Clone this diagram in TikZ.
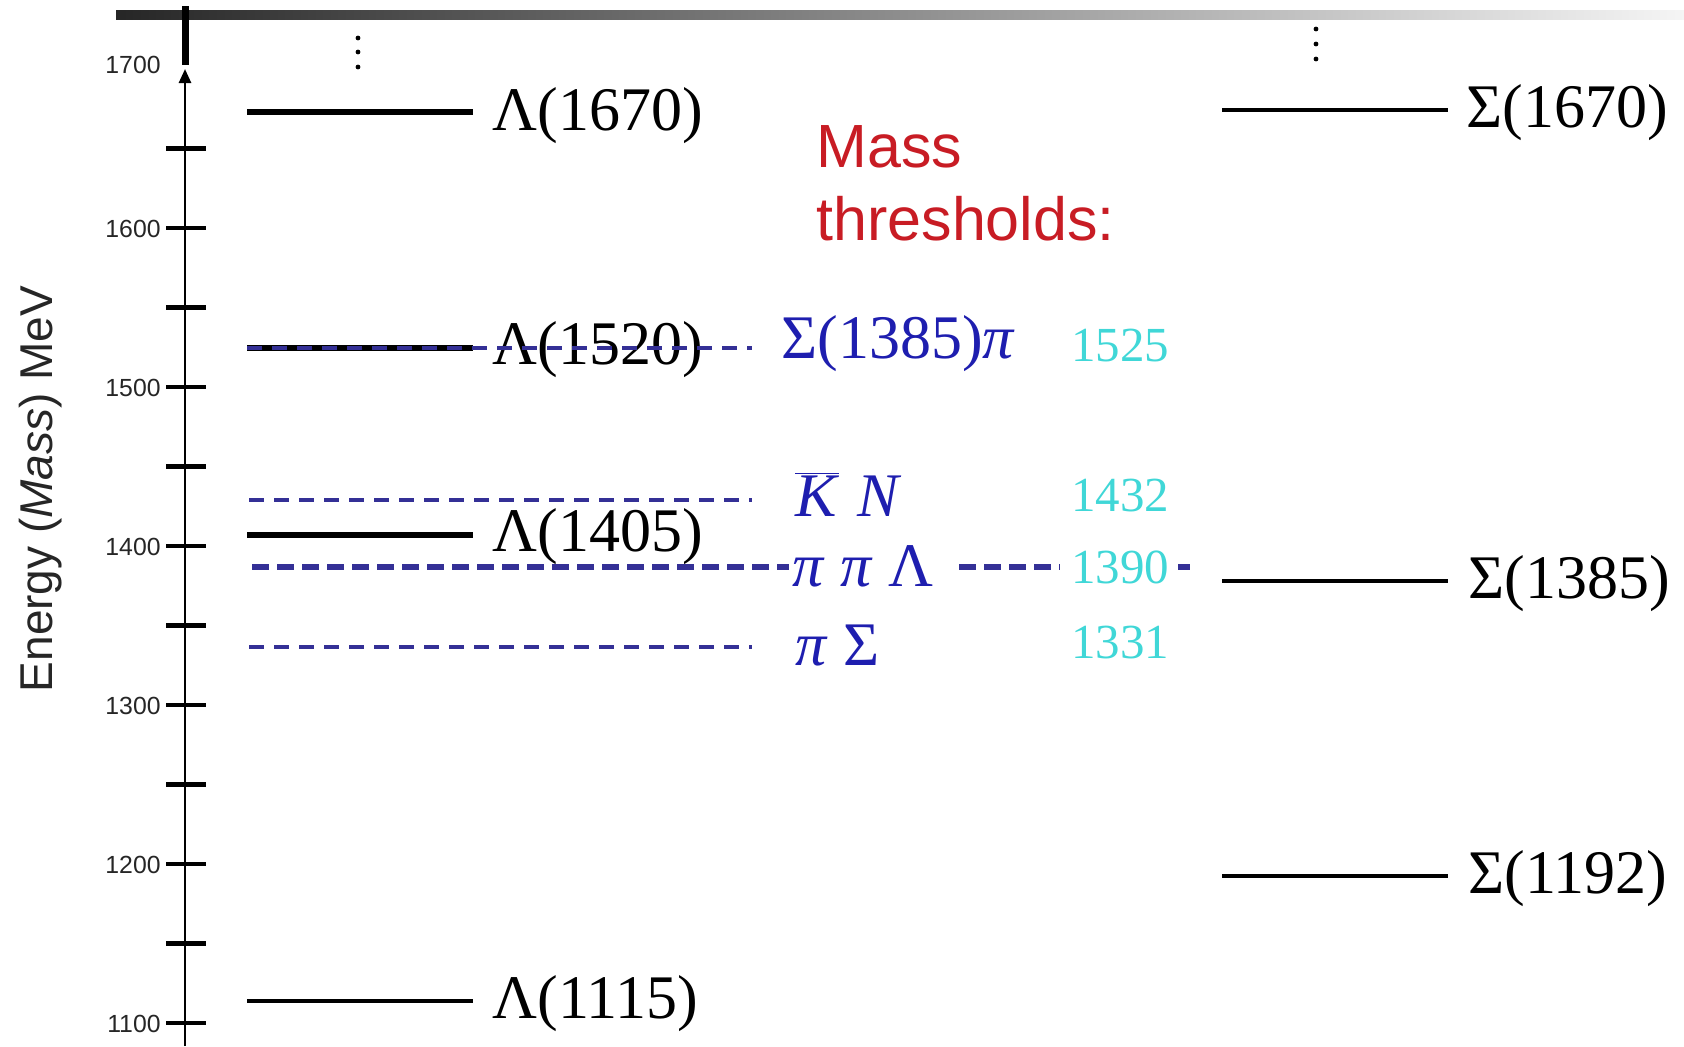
\documentclass[tikz,border=0pt]{standalone}
\usepackage{fontspec}
\setmainfont{Liberation Serif}
\newfontfamily\axisfont{Liberation Sans}
\usetikzlibrary{arrows.meta}

\definecolor{threshline}{RGB}{52,48,150}
\definecolor{threshtext}{RGB}{30,30,175}
\definecolor{threshnum}{RGB}{64,215,215}
\definecolor{titlered}{RGB}{200,28,36}

\tikzset{
  tickmark/.style={line width=2.1pt},
  ticklab/.style={anchor=east, inner sep=0pt, text=black!85, font=\axisfont\fontsize{12.4}{13}\selectfont},
  levthick/.style={line width=3.3pt},
  levthin/.style={line width=1.8pt},
  lab/.style={anchor=west, inner sep=0pt, font=\fontsize{31}{36}\selectfont},
  thlab/.style={lab, text=threshtext},
  thnum/.style={anchor=west, inner sep=0pt, text=threshnum, font=\fontsize{24.5}{28}\selectfont},
  thdash/.style={threshline, line width=1.6pt, dash pattern=on 7.5pt off 5pt},
  thdashbold/.style={threshline, line width=2.7pt, dash pattern=on 8.5pt off 4pt},
}

\begin{document}
\begin{tikzpicture}[x=0.5pt,y=-0.5pt]
\useasboundingbox (0,0) rectangle (1684,1046);

% header bar fading to the right
\shade[left color=black!85, right color=black!4] (116,10) rectangle (1684,19);

% energy axis: thick stub above the break, thin arrowed axis below
\coordinate (axtopthick) at (185,6);
\coordinate (axbreak) at (185,65);
\coordinate (axtip) at (185,69);
\coordinate (axbot) at (185,1046);
\draw[line width=3.5pt] (axtopthick) -- (axbreak);
\draw[line width=1.3pt, -{Triangle[length=7pt,width=6pt]}] (axbot) -- (axtip);

\foreach \m in {1650,1600,...,1100}{
  \pgfmathsetmacro\yy{228+(1600-\m)*1.59}
  \draw[tickmark] (166,\yy) -- (206,\yy);
}
\foreach \m in {1600,1500,...,1100}{
  \pgfmathsetmacro\yy{229+(1600-\m)*1.59}
  \node[ticklab] (tl\m) at (161,\yy) {\m};
}
\node[ticklab] (tl1700) at (161,65) {1700};

\node[rotate=90, text=black!85, font=\axisfont\fontsize{23}{26}\selectfont] (ylab) at (41,489) {Energy (\textit{Mass}) MeV};

% continuation dots
\foreach \yy in {38,52,67}{\fill (358,\yy) circle[radius=1.2pt];}
\foreach \yy in {29,44,59}{\fill (1316,\yy) circle[radius=1.2pt];}

% Lambda states
\coordinate (la1670a) at (247,112); \coordinate (la1670b) at (473,112);
\draw[levthick] (la1670a) -- (la1670b);
\node[lab] (L1670) at (492,116) {Λ(1670)};

\coordinate (la1520a) at (247,348); \coordinate (la1520b) at (473,348);
\draw[levthick] (la1520a) -- (la1520b);
\node[lab] (L1520) at (492,350) {Λ(1520)};

\coordinate (la1405a) at (247,535); \coordinate (la1405b) at (473,535);
\draw[levthick] (la1405a) -- (la1405b);
\node[lab] (L1405) at (492,537) {Λ(1405)};

\coordinate (la1115a) at (247,1001); \coordinate (la1115b) at (473,1001);
\draw[levthin] (la1115a) -- (la1115b);
\node[lab] (L1115) at (492,1004) {Λ(1115)};

% Sigma states
\coordinate (si1670a) at (1222,110); \coordinate (si1670b) at (1448,110);
\draw[levthin] (si1670a) -- (si1670b);
\node[lab] (S1670) at (1466,113) {Σ(1670)};

\coordinate (si1385a) at (1222,581); \coordinate (si1385b) at (1448,581);
\draw[levthin] (si1385a) -- (si1385b);
\node[lab] (S1385) at (1468,584) {Σ(1385)};

\coordinate (si1192a) at (1222,876); \coordinate (si1192b) at (1448,876);
\draw[levthin] (si1192a) -- (si1192b);
\node[lab] (S1192) at (1468,879) {Σ(1192)};

% mass thresholds
\node[anchor=west, inner sep=0pt, align=left, text=titlered,
      font=\axisfont\fontsize{30.5}{36.5}\selectfont] (title) at (816,183.5) {Mass\\thresholds:};

\coordinate (th1a) at (247,348); \coordinate (th1b) at (752,348);
\draw[thdash] (th1a) -- (th1b);
\node[thlab] (T1) at (781,344) {Σ(1385)\textit{π}};
\node[thnum] (N1) at (1071,346) {1525};

\coordinate (th2a) at (249,500); \coordinate (th2b) at (752,500);
\draw[thdash] (th2a) -- (th2b);
\node[thlab] (T2) at (795,494) {$\overline{\mbox{\textit{K}}}$\hspace{0.3em}\textit{N}};
\node[thnum] (N2) at (1071,496) {1432};

\coordinate (th3a) at (252,567); \coordinate (th3b) at (789,567);
\draw[thdashbold] (th3a) -- (th3b);
\node[thlab] (T3) at (792,566) {\textit{π} \textit{π} Λ};
\coordinate (th3c) at (959,567); \coordinate (th3d) at (1060,567);
\draw[thdashbold] (th3c) -- (th3d);
\node[thnum] (N3) at (1071,567) {1390};
\coordinate (th3e) at (1178,567); \coordinate (th3f) at (1190,567);
\draw[thdashbold] (th3e) -- (th3f);

\coordinate (th4a) at (249,647); \coordinate (th4b) at (752,647);
\draw[thdash] (th4a) -- (th4b);
\node[thlab] (T4) at (795,645) {\textit{π} Σ};
\node[thnum] (N4) at (1071,642) {1331};
\end{tikzpicture}
\end{document}
